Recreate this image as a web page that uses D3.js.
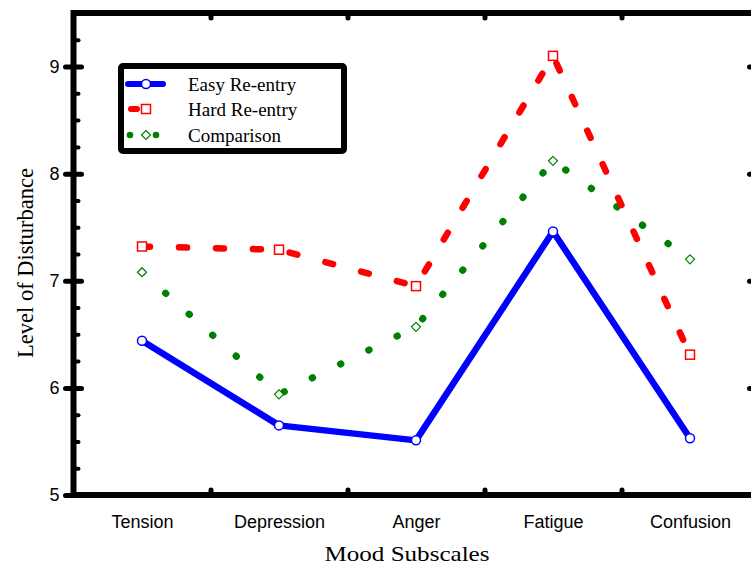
<!DOCTYPE html>
<html>
<head>
<meta charset="utf-8">
<script src="https://cdn.jsdelivr.net/npm/d3@7"></script>
<style>
  body { margin: 0; background: #fff; }
  svg { display: block; }
</style>
</head>
<body>
<svg id="chart" width="751" height="566"></svg>
<script>
// values
const categories = ["Tension", "Depression", "Anger", "Fatigue", "Confusion"];
const easy = [6.44, 5.65, 5.51, 7.46, 5.53];
const hard = [7.32, 7.29, 6.95, 9.10, 6.31];
const comparison = [7.08, 5.94, 6.57, 8.12, 7.20];
const yMajor = [5, 6, 7, 8, 9];
const yMinor = [5.25, 5.5, 5.75, 6.25, 6.5, 6.75, 7.25, 7.5, 7.75, 8.25, 8.5, 8.75, 9.25];
const xBetween = [1.5, 2.5, 3.5, 4.5];

(function () {
  const svg = d3.select("#chart");
  const x = d3.scaleLinear().domain([0.5, 5.5]).range([73.5, 758.5]);
  const y = d3.scaleLinear().domain([5, 9.5]).range([495, 13]);
  const xL = x.range()[0], xR = x.range()[1];
  const yT = y.range()[1], yB = y.range()[0];
  const sans = "Liberation Sans, Arial, sans-serif";
  const serif = "Liberation Serif, Times New Roman, serif";

  // --- ticks -----------------------------------------------------------
  const tickStyle = (g, w) => g.selectAll("line")
    .attr("stroke", "#000").attr("stroke-width", w).attr("stroke-linecap", "round");

  // left major: crosses the frame, labelled
  const leftAxis = svg.append("g").attr("transform", `translate(${xL},0)`)
    .call(d3.axisLeft(y).tickValues(yMajor).tickSize(8).tickPadding(6).tickFormat(d3.format("d")));
  leftAxis.select(".domain").remove();
  leftAxis.selectAll("line").attr("x2", -8).attr("x1", 8);
  tickStyle(leftAxis, 5);
  leftAxis.selectAll("text")
    .attr("font-family", sans).attr("font-size", 18).attr("fill", "#000");

  // left minor: small inward dots
  const leftMinor = svg.append("g").attr("transform", `translate(${xL},0)`)
    .call(d3.axisRight(y).tickValues(yMinor).tickSize(5).tickFormat(""));
  leftMinor.select(".domain").remove();
  tickStyle(leftMinor, 4);

  // right: inward at majors
  const rightAxis = svg.append("g").attr("transform", `translate(${xR},0)`)
    .call(d3.axisLeft(y).tickValues(yMajor).tickSize(9).tickFormat(""));
  rightAxis.select(".domain").remove();
  tickStyle(rightAxis, 5);

  // bottom: dots between categories, labels at categories
  const bottomAxis = svg.append("g").attr("transform", `translate(0,${yB})`)
    .call(d3.axisTop(x).tickValues(xBetween).tickSize(5).tickFormat(""));
  bottomAxis.select(".domain").remove();
  tickStyle(bottomAxis, 5);

  const labelAxis = svg.append("g").attr("transform", `translate(0,${yB})`)
    .call(d3.axisBottom(x).tickValues(d3.range(1, categories.length + 1)).tickSize(0).tickPadding(20)
      .tickFormat(d => categories[d - 1]));
  labelAxis.select(".domain").remove();
  labelAxis.selectAll("text")
    .attr("font-family", sans).attr("font-size", 18).attr("fill", "#000");

  const topAxis = svg.append("g").attr("transform", `translate(0,${yT})`)
    .call(d3.axisBottom(x).tickValues(xBetween).tickSize(5).tickFormat(""));
  topAxis.select(".domain").remove();
  tickStyle(topAxis, 5);

  // frame
  svg.append("rect")
    .attr("x", xL).attr("y", yT)
    .attr("width", xR - xL).attr("height", yB - yT)
    .attr("fill", "none").attr("stroke", "#000").attr("stroke-width", 6);

  // --- series ------------------------------------------------------------
  const line = d3.line().x((d, i) => x(i + 1)).y(d => y(d));

  const series = [
    { name: "Easy Re-entry", values: easy, color: "#0000ff", dash: null, width: 6.5, marker: "circle" },
    { name: "Hard Re-entry", values: hard, color: "#ff0000", dash: "8 29", width: 6.5, marker: "square" },
    { name: "Comparison", values: comparison, color: "#008000", dash: "0.5 31", width: 7, marker: "diamond" },
  ];

  function drawMarker(g, type, color, cx, cy) {
    if (type === "circle") {
      g.append("circle").attr("cx", cx).attr("cy", cy).attr("r", 4.5)
        .attr("fill", "#fff").attr("stroke", color).attr("stroke-width", 1.5);
    } else if (type === "square") {
      g.append("rect").attr("x", cx - 4.5).attr("y", cy - 4.5).attr("width", 9).attr("height", 9)
        .attr("fill", "#fff").attr("stroke", color).attr("stroke-width", 1.5);
    } else {
      g.append("path").attr("d", `M${cx},${cy - 4.5}L${cx + 4.5},${cy}L${cx},${cy + 4.5}L${cx - 4.5},${cy}Z`)
        .attr("fill", "#fff").attr("stroke", color).attr("stroke-width", 1.2);
    }
  }

  const plot = svg.append("g");
  series.slice().reverse().forEach(s => {
    plot.append("path").datum(s.values)
      .attr("d", line)
      .attr("fill", "none").attr("stroke", s.color)
      .attr("stroke-width", s.width)
      .attr("stroke-linecap", "round").attr("stroke-linejoin", "round")
      .attr("stroke-dasharray", s.dash);
  });
  series.forEach(s => {
    s.values.forEach((v, i) => drawMarker(plot, s.marker, s.color, x(i + 1), y(v)));
  });

  // --- legend -------------------------------------------------------------
  const legend = svg.append("g");
  legend.append("rect")
    .attr("x", 121).attr("y", 66).attr("width", 223).attr("height", 85).attr("rx", 2)
    .attr("fill", "#fff").attr("stroke", "#000").attr("stroke-width", 6);

  const rowY = [84, 109, 135];
  series.forEach((s, i) => {
    const ly = rowY[i];
    if (s.marker === "circle") {
      legend.append("line").attr("x1", 128).attr("x2", 163).attr("y1", ly).attr("y2", ly)
        .attr("stroke", s.color).attr("stroke-width", 6).attr("stroke-linecap", "round");
    } else if (s.marker === "square") {
      legend.append("line").attr("x1", 131).attr("x2", 137).attr("y1", ly).attr("y2", ly)
        .attr("stroke", s.color).attr("stroke-width", 6).attr("stroke-linecap", "round");
    } else {
      [130, 156].forEach(cx => legend.append("circle").attr("cx", cx).attr("cy", ly).attr("r", 3.3).attr("fill", s.color));
    }
    drawMarker(legend, s.marker, s.color, 146, ly);
    legend.append("text").attr("x", 188).attr("y", ly).attr("dy", "0.35em")
      .attr("font-family", serif).attr("font-size", 19)
      .text(s.name);
  });

  // --- axis titles -------------------------------------------------------
  svg.append("text")
    .attr("transform", `translate(33,263) rotate(-90)`)
    .attr("text-anchor", "middle")
    .attr("font-family", serif).attr("font-size", 22.5)
    .text("Level of Disturbance");

  svg.append("text")
    .attr("x", 407).attr("y", 561)
    .attr("text-anchor", "middle")
    .attr("font-family", serif).attr("font-size", 22)
    .attr("textLength", 165).attr("lengthAdjust", "spacingAndGlyphs")
    .text("Mood Subscales");
})();
</script>
</body>
</html>
